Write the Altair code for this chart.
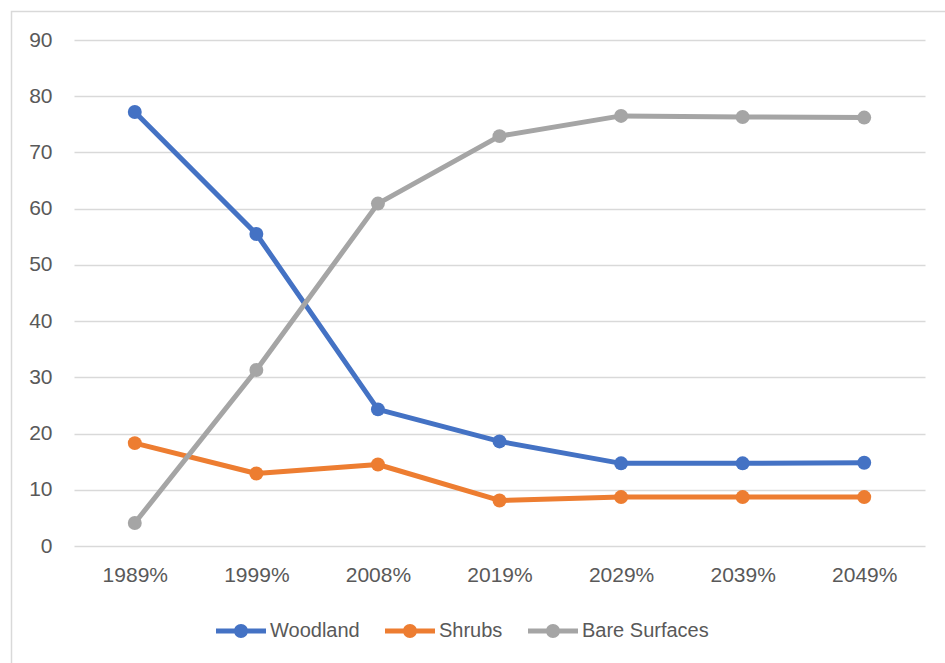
import altair as alt
import pandas as pd

years = ["1989%", "1999%", "2008%", "2019%", "2029%", "2039%", "2049%"]
series = ["Woodland", "Shrubs", "Bare Surfaces"]
woodland = [77.2, 55.5, 24.3, 18.6, 14.7, 14.7, 14.8]
shrubs = [18.3, 12.9, 14.5, 8.1, 8.7, 8.7, 8.7]
bare = [4.1, 31.3, 60.9, 72.9, 76.5, 76.3, 76.2]
colors = ["#4472C4", "#ED7D31", "#A5A5A5"]

rows = []
for name, vals in zip(series, [woodland, shrubs, bare]):
    for y, v in zip(years, vals):
        rows.append({"Year": y, "Series": name, "Value": v})
df = pd.DataFrame(rows)

FONT = "Liberation Sans"
LABEL = "#595959"

# legend symbol: a short line with a dot in the middle
sym = ("M-1,-0.1H1V0.1H-1Z "
       "M-0.28,0A0.28,0.28 0 1,1 0.28,0A0.28,0.28 0 1,1 -0.28,0Z")

x_enc = alt.X("Year:N", sort=years, title=None,
              scale=alt.Scale(type="point", padding=0.5),
              axis=alt.Axis(domain=False, ticks=False, grid=False,
                            labelAngle=0, labelFont=FONT, labelFontSize=21,
                            labelColor=LABEL, labelPadding=18))
y_enc = alt.Y("Value:Q", title=None,
              scale=alt.Scale(domain=[0, 90], nice=False),
              axis=alt.Axis(values=list(range(0, 100, 10)), domain=False,
                            ticks=False, grid=True, gridColor="#D9D9D9",
                            gridWidth=1.5, labelFont=FONT, labelFontSize=21,
                            labelColor=LABEL, labelPadding=22))
color_enc = alt.Color("Series:N", sort=series,
                      scale=alt.Scale(domain=series, range=colors),
                      legend=alt.Legend(title=None, orient="none",
                                        direction="horizontal",
                                        legendX=142, legendY=566,
                                        symbolType=sym, symbolSize=2500,
                                        symbolStrokeWidth=0,
                                        labelFont=FONT, labelFontSize=20,
                                        labelColor=LABEL, labelOffset=4,
                                        columnPadding=25, padding=0))

base = alt.Chart(df)
lines = base.mark_line(strokeWidth=5, strokeJoin="round").encode(
    x=x_enc, y=y_enc, color=color_enc)
points = base.mark_circle(size=195, opacity=1).encode(
    x=x_enc, y=y_enc, color=alt.Color("Series:N", sort=series,
                                      scale=alt.Scale(domain=series, range=colors),
                                      legend=None))

border = alt.Chart(pd.DataFrame({"a": [0]})).mark_rect(
    fill=None, stroke="#D9D9D9", strokeWidth=1.5).encode(
    x=alt.value(-62.5), x2=alt.value(900), y=alt.value(-28.5), y2=alt.value(700))

chart = alt.layer(border, lines, points).properties(
    width=851, height=506,
    padding={"left": 74, "top": 40, "right": 20, "bottom": 117},
    autosize=alt.AutoSizeParams(type="none"),
    background="white",
).configure_view(stroke=None)

chart.save("out.html", embed_options={"renderer": "svg", "actions": False})
